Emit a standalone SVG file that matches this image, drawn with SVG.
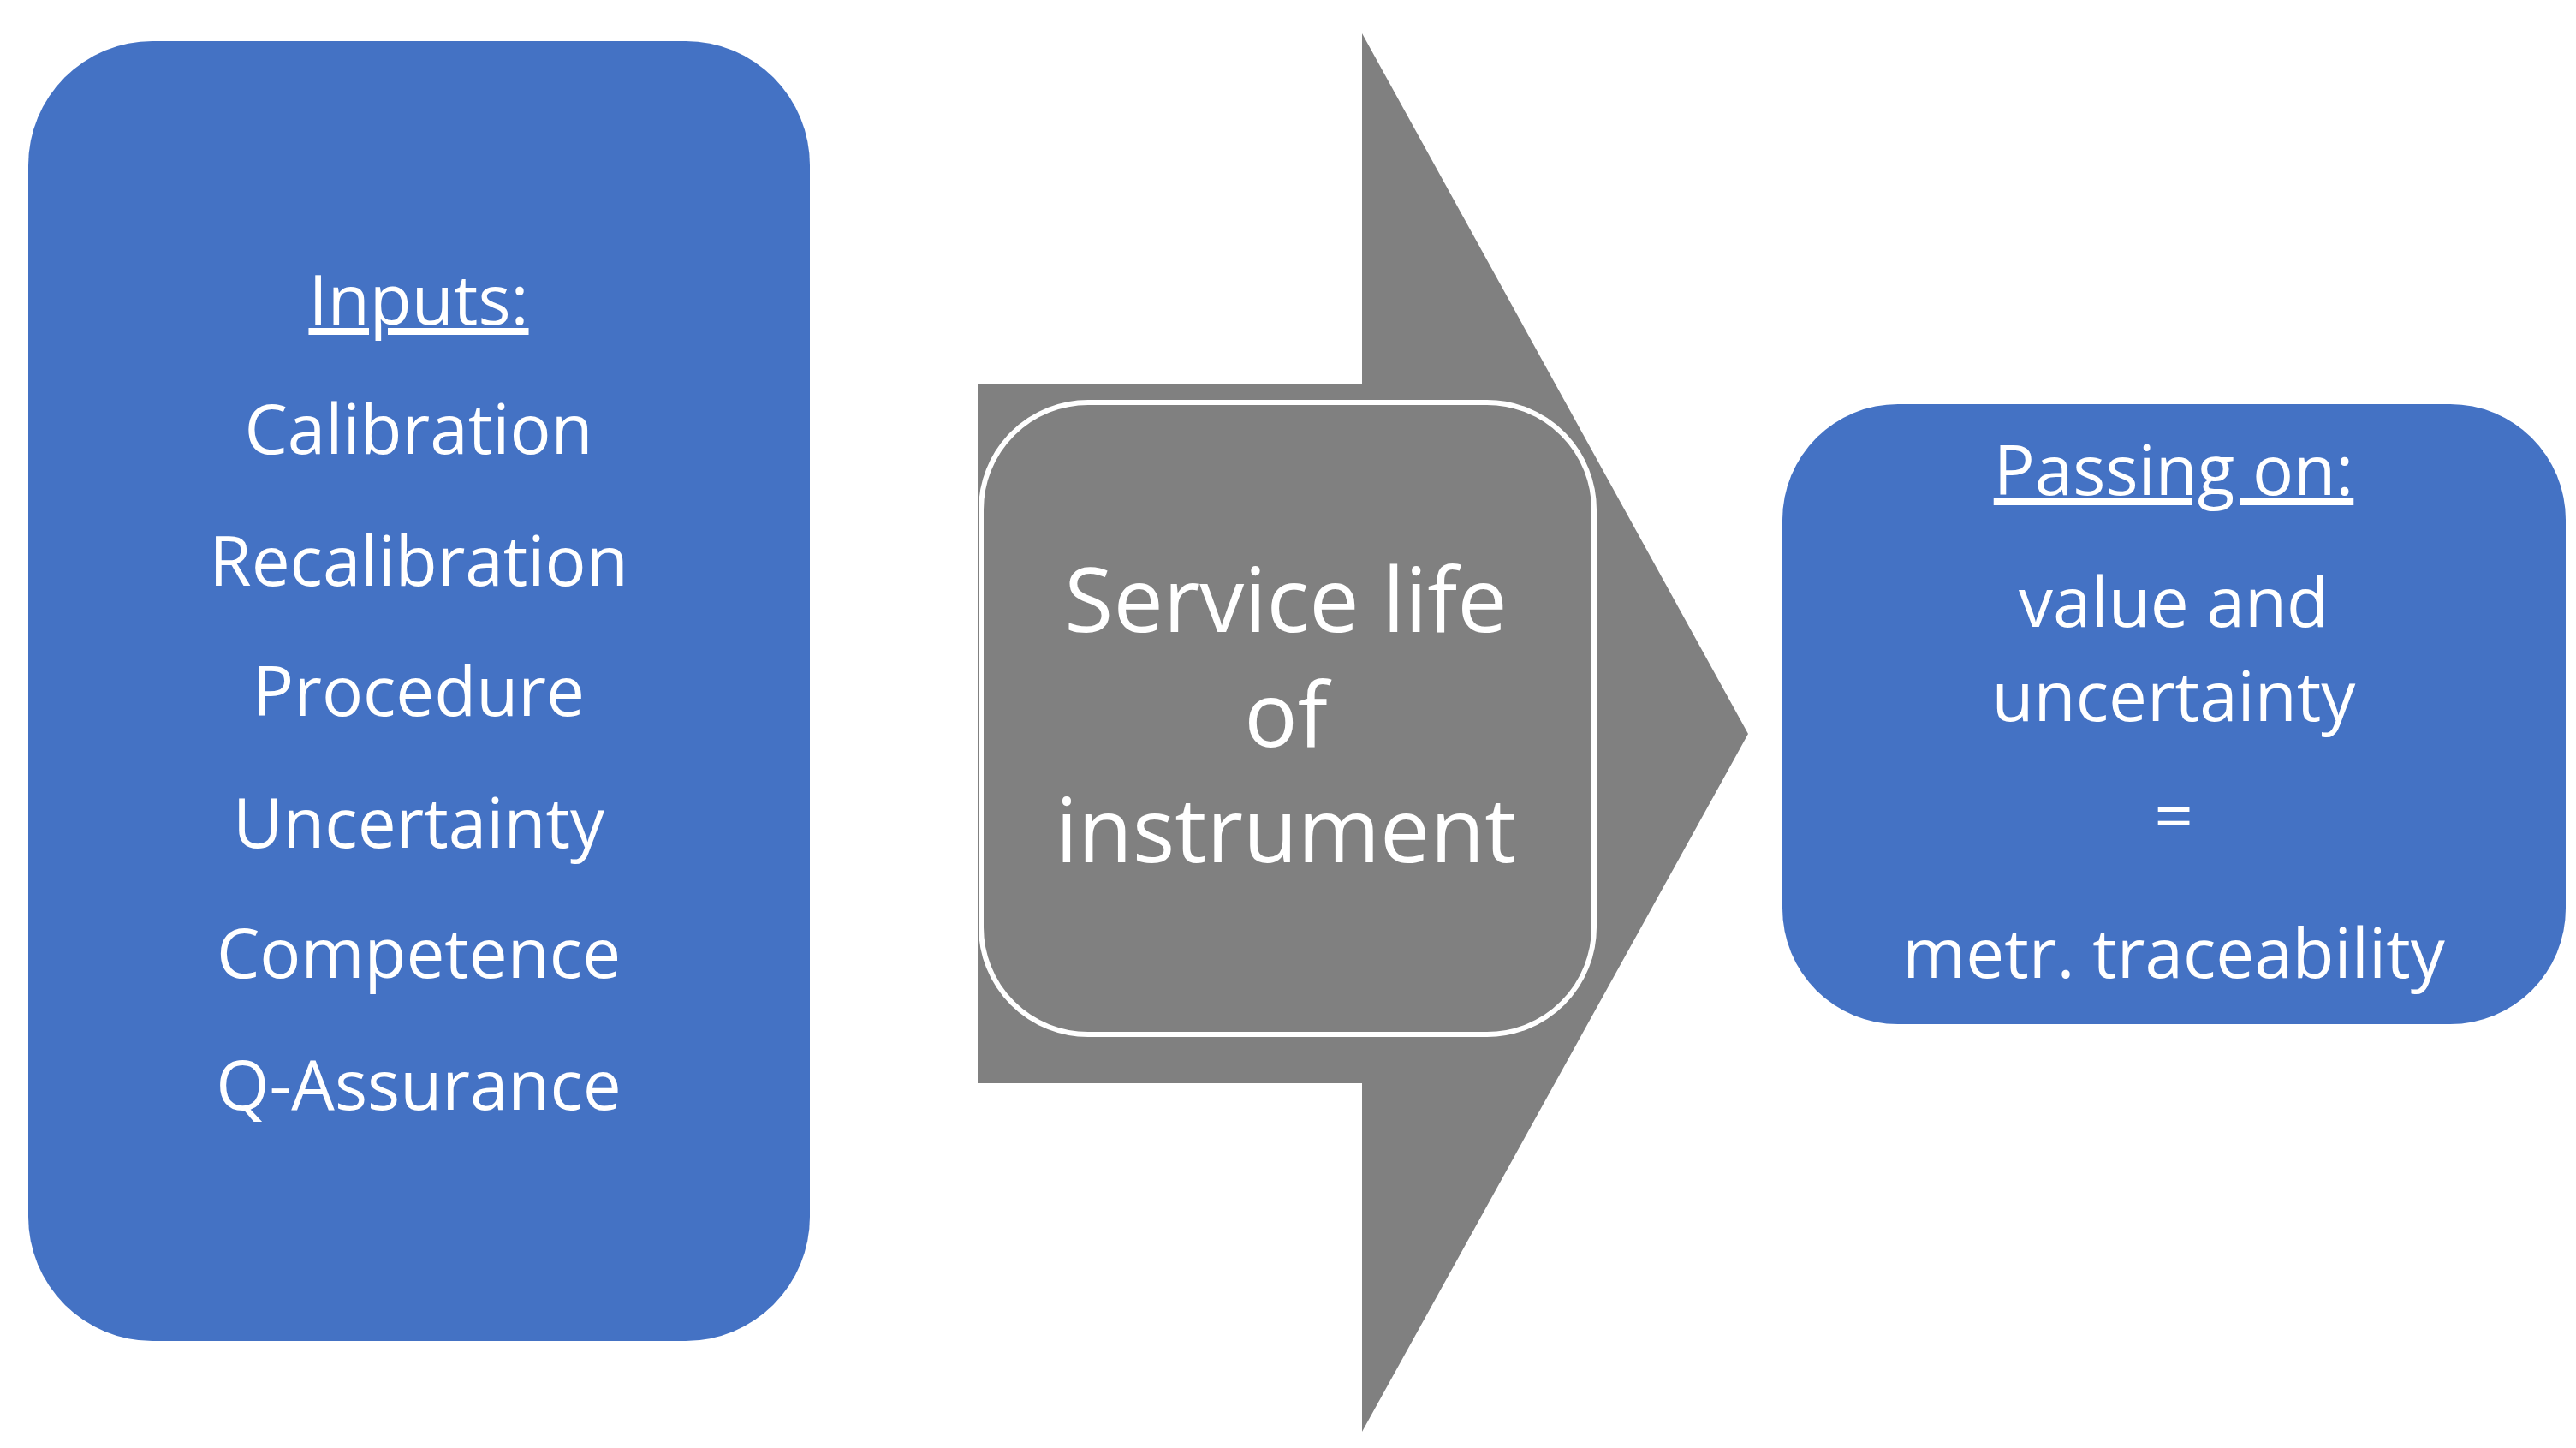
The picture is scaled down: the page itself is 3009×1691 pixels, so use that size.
<svg xmlns="http://www.w3.org/2000/svg" width="3009" height="1691" viewBox="0 0 3009 1691">
<style>
.box{fill:#4472C4}
.t{font-family:"Open Sans","Liberation Sans",sans-serif;fill:#fff;text-anchor:middle;font-size:80px}
.m{font-size:104px}
</style>
<rect width="3009" height="1691" fill="#fff"/>
<g id="connectors">
<path d="M1142 449H1591V39L2042 857L1591 1672V1265H1142Z" fill="#808080"/>
</g>
<g id="inputs">
<rect class="box" x="33" y="48" width="913" height="1518" rx="145"/>
<text class="t" x="489" y="379" text-decoration="underline">Inputs:</text>
<text class="t" x="489" y="530">Calibration</text>
<text class="t" x="489" y="684">Recalibration</text>
<text class="t" x="489" y="836">Procedure</text>
<text class="t" x="489" y="990">Uncertainty</text>
<text class="t" x="489" y="1142">Competence</text>
<text class="t" x="489" y="1296">Q-Assurance</text>
</g>
<g id="service">
<rect x="1146" y="470" width="716" height="738" rx="125" fill="#808080" stroke="#fff" stroke-width="6"/>
<text class="t m" x="1502" y="738">Service life</text>
<text class="t m" x="1502" y="872">of</text>
<text class="t m" x="1502" y="1007">instrument</text>
</g>
<g id="passing">
<rect class="box" x="2082" y="472" width="915" height="724" rx="135"/>
<text class="t" x="2539" y="578" text-decoration="underline">Passing on:</text>
<text class="t" x="2539" y="732">value and</text>
<text class="t" x="2539" y="842">uncertainty</text>
<text class="t" x="2539" y="982">=</text>
<text class="t" x="2539" y="1142">metr. traceability</text>
</g>
</svg>
